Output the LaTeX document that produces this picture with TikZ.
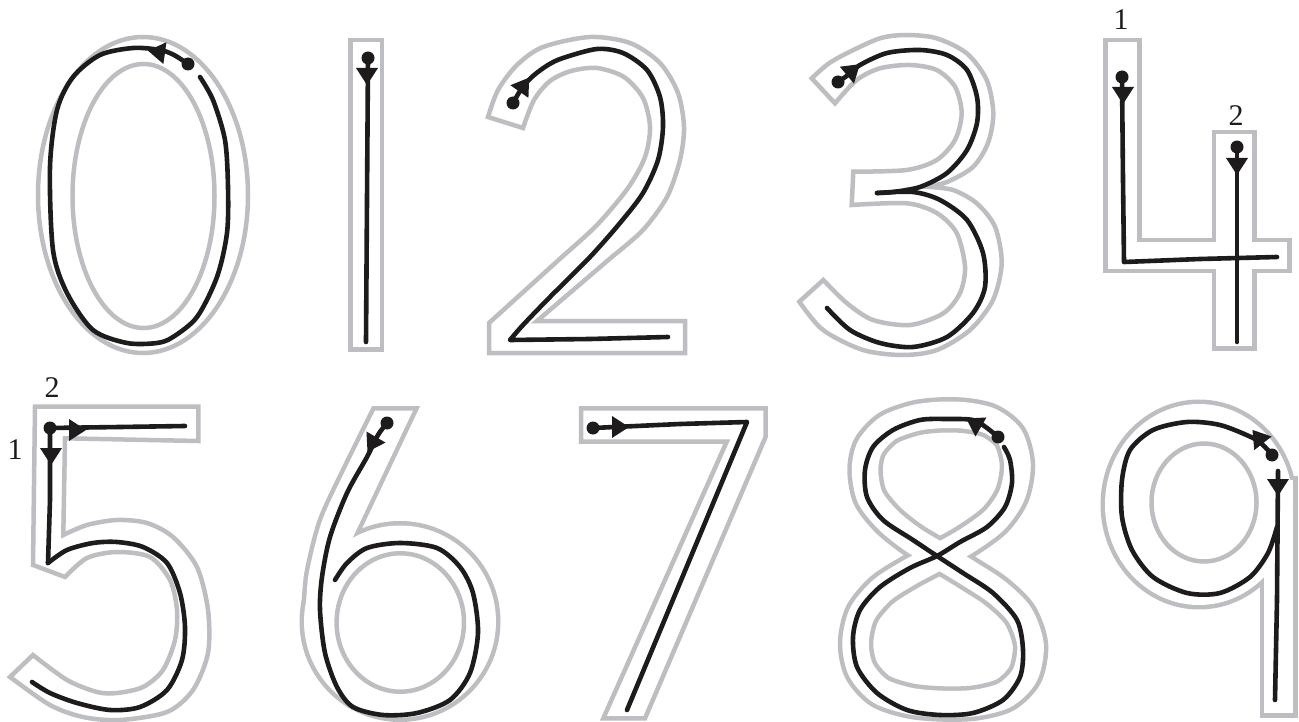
\documentclass[tikz,border=0pt]{standalone}
\usepackage{fontspec}
\setmainfont{Liberation Serif}
\definecolor{og}{RGB}{189,190,193}
\definecolor{ink}{RGB}{30,27,28}
\newcommand\digarrow[3]{\fill[ink,shift={(#1,#2)},rotate=#3] (9,0) -- (-8,11) -- (-8,-11) -- cycle;}
\tikzset{
 outl/.style={draw=og,line width=4.5pt,line join=miter},
 ugray/.style={draw=og,line width=9pt,line join=miter},
 uwhite/.style={fill=white,draw=none},
 trace/.style={draw=ink,line width=4.6pt,line cap=round,line join=round},
 lbl/.style={font=\fontsize{30}{30}\selectfont,text=ink,inner sep=0pt},
}
\begin{document}
\begin{tikzpicture}[x=1pt,y=-1pt]
\useasboundingbox (0,0) rectangle (1299,722);
\fill[white] (0,0) rectangle (1299,722);
\clip (0,0) rectangle (1299,722);

% ---------- 0 ----------
\draw[outl] (143,195) ellipse [x radius=105, y radius=158];
\draw[outl] (143.5,196) ellipse [x radius=71, y radius=132];
\draw[trace] plot[smooth] coordinates {(188,64) (174,55) (160,50) (133,48) (100,55) (73,77) (57,110) (50,167) (53,250) (67,293) (93,330) (127,343) (157,343) (173,337) (197,317) (217,277) (227,233) (228,187) (225,140) (213,100) (200,77)};
\fill[ink] (188,64) circle[radius=6.5pt];
\digarrow{157}{52}{172}

% ---------- 1 ----------
\draw[outl] (350.5,40) rectangle (382,349.5);
\draw[trace] (368,58) -- (367,200) -- (366,342);
\fill[ink] (368,58) circle[radius=6.5pt];
\digarrow{367}{76}{-90}

% ---------- 2 ----------
\draw[outl] plot[smooth] coordinates {(488,117) (498,90) (517,65) (543,47) (590,37) (630,43) (660,63) (678,93) (684,127) (680,160) (667,197) (643,230) (613,256)} -- (537,321) -- (685,321) -- (685,353) -- (489,353) -- (489,323) -- plot[smooth] coordinates {(563,256) (597,225) (628,188) (645,157) (650,127) (643,98) (624,77) (597,68) (571,71) (550,81) (534,100) (523,128)} -- cycle;
\draw[trace] plot[smooth] coordinates {(513,103) (522,88) (533,76) (548,65) (563,58) (597,49) (623,53) (647,70) (660,97) (663,127) (658,160) (643,193) (620,223) (590,257) (550,297) (523,325) (510,340)} -- (590,339) -- (668,337);
\fill[ink] (513,103) circle[radius=6.5pt];
\digarrow{524}{85}{55}

% ---------- 3 ----------
\draw[outl] plot[smooth] coordinates {(811.7,78.3) (828,64) (846.7,53.3) (880,38.3) (906.7,35) (936.7,38.3) (966.7,53.3) (986.7,80) (993.3,113.3) (988,143) (973,167) (947,182) (926.7,186.7)} -- plot[smooth] coordinates {(926.7,186.7) (953,190) (976.7,203.3) (995,226.7) (1001.7,263.3) (993,300) (970,330) (937,350) (903,355) (863,350) (823,330) (799.3,301.7)} -- (823.3,280) -- plot[smooth] coordinates {(823.3,280) (846.7,303) (873,320) (910,325) (943.3,313.3) (960,293) (965,266.7) (956.7,233) (936.7,213) (906.7,203.3) (851.7,205)} -- (853.3,171.7) -- plot[smooth] coordinates {(853.3,171.7) (906.7,170) (936.7,160) (955,140) (961.7,113.3) (955,86.7) (936.7,70) (910,65) (880,68.3) (856.7,80) (835,103.3)} -- cycle;
\draw[trace] plot[smooth] coordinates {(838,82) (848,75) (860,65) (887,53) (920,50) (947,55) (967,70) (977,97) (977,123) (967,150) (947,173) (920,187) (893,192) (877,193)};
\draw[trace] plot[smooth] coordinates {(877,193) (913,192) (940,200) (967,220) (983,253) (985,287) (973,313) (947,337) (913,347) (880,343) (850,330) (827,308)};
\fill[ink] (838,82) circle[radius=6.5pt];
\digarrow{853}{70}{40}

% ---------- 4 ----------
\draw[outl] (1105.5,40) -- (1139.5,40) -- (1139.5,240) -- (1214,240) -- (1214,132) -- (1254.5,132) -- (1254.5,240) -- (1289.5,240) -- (1289.5,271) -- (1254.5,271) -- (1254.5,348.5) -- (1214,348.5) -- (1214,271) -- (1105.5,271) -- cycle;
\draw[trace] (1122,77) -- (1123,180) -- (1124,262) -- (1200,259) -- (1277,257);
\draw[trace] (1237,147) -- (1237,250) -- (1237,342);
\fill[ink] (1122,77) circle[radius=6.5pt];
\fill[ink] (1237,147) circle[radius=6.5pt];
\digarrow{1123}{95}{-90}
\digarrow{1237}{166}{-90}
\node[lbl] (l4a) at (1121,20) {1};
\node[lbl] (l4b) at (1236,116) {2};

% ---------- 5 ----------
\draw[outl] (35,406.7) -- (198.3,406.7) -- (198.3,441) -- (65,438.3) -- (63.3,535) -- plot[smooth] coordinates {(63.3,535) (87,525) (117,520) (147,523) (173,537) (197,567) (208,610) (208,653) (193,690) (167,712) (120,720) (83,717) (50,705) (10,677)} -- (33,655) -- plot[smooth] coordinates {(33,655) (67,680) (97,692) (117,693) (143,687) (163,670) (175,640) (177,610) (170,580) (150,557) (117,552) (87,558) (65,577)} -- (33,565) -- cycle;
\draw[trace] (50,428) -- (120,427) -- (185,426);
\draw[trace] (50,428) -- (50,500) -- (48,563);
\draw[trace] plot[smooth] coordinates {(48,563) (67,550) (93,543) (117,542) (143,547) (167,563) (180,593) (185,627) (182,660) (167,690) (140,707) (110,710) (77,703) (50,693) (32,682)};
\fill[ink] (50,428) circle[radius=6.5pt];
\digarrow{77}{430}{0}
\digarrow{51}{456}{-90}
\node[lbl] (l5a) at (15,450) {1};
\node[lbl] (l5b) at (52,388) {2};

% ---------- 6 ----------
\draw[ugray] (400,621.5) circle[radius=96pt];
\draw[ugray] (375,410.5) -- (413,410.5) -- (335,575) -- plot[smooth] coordinates {(306,605) (309,572) (322,521) (345,471) (375,410.5)} -- cycle;
\fill[uwhite] (400,621.5) circle[radius=96pt];
\fill[uwhite] (375,410.5) -- (413,410.5) -- (335,575) -- plot[smooth] coordinates {(306,605) (309,572) (322,521) (345,471) (375,410.5)} -- cycle;
\draw[outl] (400.3,622.5) ellipse [x radius=63.7, y radius=69.2];
\draw[trace] plot[smooth] coordinates {(387,423) (378,435) (367,457) (347,493) (330,537) (322,577) (320,610) (325,653) (337,687) (353,707) (383,715) (417,713) (450,700) (470,673) (478,633) (473,593) (460,567) (437,548) (400,543) (367,548) (347,563) (335,580)};
\fill[ink] (387,423) circle[radius=6.5pt];
\digarrow{372}{444}{-120}

% ---------- 7 ----------
\draw[outl] (581,408.3) -- (765.7,408.3) -- (765.7,436.7) -- (645,718.3) -- (603.3,718.3) -- (726.7,441.7) -- (581,441.7) -- cycle;
\draw[trace] (593,428) -- (680,424) -- (747,422) -- (627,710);
\fill[ink] (593,428) circle[radius=6.5pt];
\digarrow{620}{427}{0}

% ---------- 8 ----------
\draw[og,line width=35.5pt] plot[smooth cycle] coordinates {(940,556) (968,540) (995,520) (1012,495) (1017.5,465) (1010,437) (990,421) (965,415.5) (940,415) (915,418) (888,428) (870,447) (865,470) (870,497) (888,520) (913,540) (940,556) (968,573) (997,592) (1020,615) (1030.5,645) (1025,675) (1005,695) (975,703) (943,704) (910,701) (880,691) (861,670) (855.5,643) (862,614) (882,590) (910,572)};
\draw[white,line width=26.5pt] plot[smooth cycle] coordinates {(940,556) (968,540) (995,520) (1012,495) (1017.5,465) (1010,437) (990,421) (965,415.5) (940,415) (915,418) (888,428) (870,447) (865,470) (870,497) (888,520) (913,540) (940,556) (968,573) (997,592) (1020,615) (1030.5,645) (1025,675) (1005,695) (975,703) (943,704) (910,701) (880,691) (861,670) (855.5,643) (862,614) (882,590) (910,572)};
\draw[trace] plot[smooth] coordinates {(998,437) (987,428) (973,420) (947,419) (920,420) (893,430) (873,447) (865,470) (867,497) (883,520) (913,540) (937,556) (963,573) (993,593) (1017,620) (1023,650) (1020,677) (1003,700) (973,713) (940,715) (907,710) (877,693) (857,667) (853,637) (860,610) (880,587) (910,568) (937,556) (960,542) (987,527) (1005,507) (1012,483) (1010,460) (1004,447)};
\fill[ink] (998,437) circle[radius=6.5pt];
\digarrow{974}{423}{150}

% ---------- 9 ----------
\draw[ugray] (1199,504.5) ellipse [x radius=94, y radius=100.5];
\draw[ugray] (1264,480) rectangle (1293,713);
\fill[uwhite] (1199,504.5) ellipse [x radius=94, y radius=100.5];
\fill[uwhite] (1264,480) rectangle (1293,713);
\draw[outl] (1204,502.5) ellipse [x radius=52.5, y radius=59];
\draw[trace] plot[smooth] coordinates {(1272,455) (1265,447) (1253,438) (1220,425) (1187,422) (1153,430) (1130,450) (1122,480) (1122,517) (1132,550) (1153,577) (1187,593) (1220,593) (1250,577) (1268,553) (1277,527)};
\draw[trace] (1278,471) -- (1277,600) -- (1275,700);
\fill[ink] (1272,455) circle[radius=6.5pt];
\digarrow{1258}{437}{128}
\digarrow{1278}{487}{-90}
\end{tikzpicture}
\end{document}
